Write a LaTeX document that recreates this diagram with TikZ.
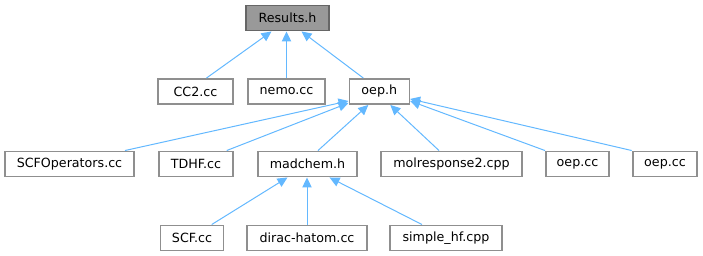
\documentclass[tikz,border=0pt]{standalone}
\usepackage{fontspec}
\setmainfont{DejaVu Sans}
\usepackage{xcolor}
\usepackage{tikz}
\usetikzlibrary{arrows.meta,positioning,calc}

\definecolor{edgeblue}{HTML}{63B8FF}
\definecolor{boxgray}{HTML}{8F8F8F}
\definecolor{rootline}{HTML}{666666}
\definecolor{rootfill}{HTML}{999999}

\begin{document}
\begin{tikzpicture}[x=0.75pt, y=-0.75pt,
  file/.style={draw=boxgray, line width=1.2pt, fill=white, rectangle, inner sep=0pt,
    minimum height=19pt, font=\fontsize{9.5}{11}\selectfont},
  root/.style={file, draw=rootline, fill=rootfill},
  dep/.style={draw=edgeblue, line width=0.75pt, -{Triangle[length=7.5pt, width=7pt]}}]
\useasboundingbox (0,0) rectangle (703,256);

% Header at the top
\node[root, minimum width=62pt] (results) at (287.5,18) {Results.h};

% Files that include it
\node[file, minimum width=56pt] (cc2) at (195.5,91.5) {CC2.cc};
\node[file, minimum width=58pt] (nemo) at (286.5,91.5) {nemo.cc};
\node[file, minimum width=45pt] (oeph) at (379.3,91.5) {oep.h};

% Files that include oep.h
\node[file, minimum width=97pt] (scfop) at (69.5,164) {SCFOperators.cc};
\node[file, minimum width=55.5pt] (tdhf) at (196,164) {TDHF.cc};
\node[file, minimum width=74pt] (madchem) at (307.5,164) {madchem.h};
\node[file, minimum width=106pt] (molresp) at (451.5,164) {molresponse2.cpp};
\node[file, minimum width=47pt] (oepcc1) at (577.5,164) {oep.cc};
\node[file, minimum width=48pt] (oepcc2) at (665,164) {oep.cc};

% Files that include madchem.h
\node[file, minimum width=47pt] (scf) at (192,238) {SCF.cc};
\node[file, minimum width=90pt] (dirac) at (307,238) {dirac-hatom.cc};
\node[file, minimum width=84pt] (simplehf) at (446,238) {simple\_hf.cpp};

% Include edges
\draw[dep] ([shift={(11,0)}]cc2.north) -- ([shift={(-16,0)}]results.south);
\draw[dep] (nemo.north) -- (nemo.north |- results.south);
\draw[dep] ([shift={(-16,0)}]oeph.north) -- ([shift={(14,0)}]results.south);

\draw[dep] ([shift={(55.5,0)}]scfop.north) -- ([shift={(0,-4)}]oeph.south west);
\draw[dep] ([shift={(30.7,0)}]tdhf.north) -- ([shift={(0,-2)}]oeph.south west);
\draw[dep] ([shift={(10.5,0)}]madchem.north) -- ([shift={(-11,0)}]oeph.south);
\draw[dep] ([shift={(-12.5,0)}]molresp.north) -- ([shift={(11,0)}]oeph.south);
\draw[dep] ([shift={(-32.5,0)}]oepcc1.north) -- ([shift={(0,-4)}]oeph.south east);
\draw[dep] ([shift={(-33.3,0)}]oepcc2.north) -- ([shift={(0,-6)}]oeph.south east);

\draw[dep] ([shift={(19.7,0)}]scf.north) -- ([shift={(-20,0)}]madchem.south);
\draw[dep] (dirac.north) -- (dirac.north |- madchem.south);
\draw[dep] ([shift={(-24,0)}]simplehf.north) -- ([shift={(22,0)}]madchem.south);

\end{tikzpicture}
\end{document}
